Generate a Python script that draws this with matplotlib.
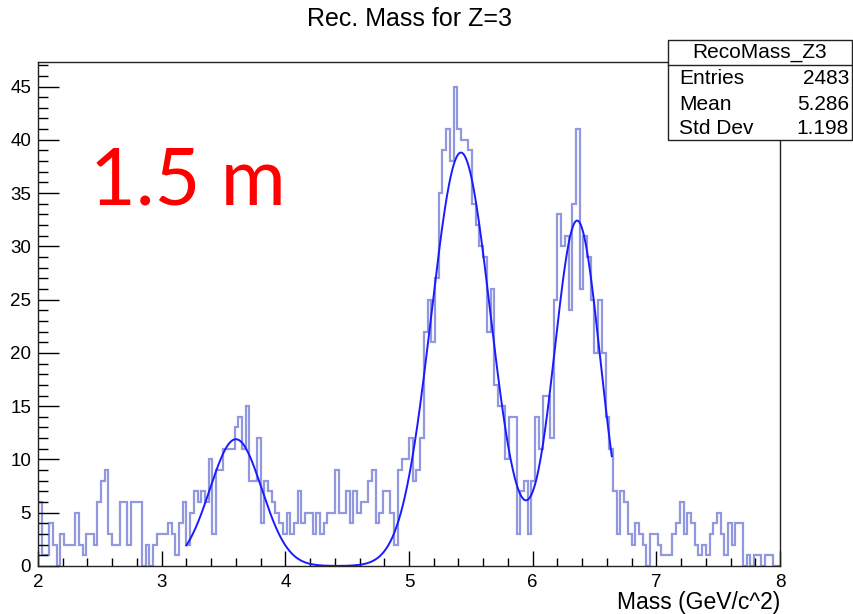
import numpy as np
import matplotlib
matplotlib.use("Agg")
import matplotlib.pyplot as plt
from matplotlib.patches import Rectangle
from matplotlib.lines import Line2D
from matplotlib.ticker import MultipleLocator

# ---------------- data ----------------
x_min, x_max, n_bins = 2.0, 8.0, 200
counts = [
    6, 1, 1, 4, 2, 0, 3, 2, 2, 2,
    5, 2, 1, 3, 3, 2, 6, 8, 9, 3,
    2, 2, 6, 6, 2, 6, 6, 6, 0, 2,
    0, 2, 3, 3, 3, 4, 3, 1, 4, 6,
    2, 5, 7, 6, 7, 6, 10, 3, 9, 9,
    11, 11, 11, 13, 14, 11, 15, 8, 8, 12,
    4, 8, 7, 6, 5, 4, 3, 5, 3, 4,
    7, 4, 5, 5, 3, 5, 3, 4, 5, 5,
    9, 5, 5, 7, 4, 7, 5, 6, 6, 8,
    9, 4, 5, 7, 7, 5, 2, 9, 10, 10,
    12, 8, 9, 12, 22, 25, 21, 27, 35, 39,
    41, 38, 45, 41, 40, 40, 39, 34, 32, 30,
    29, 22, 26, 17, 15, 15, 10, 14, 14, 3,
    7, 8, 3, 8, 14, 11, 16, 16, 12, 25,
    33, 30, 31, 24, 34, 41, 26, 31, 29, 25,
    20, 25, 20, 14, 11, 7, 3, 7, 6, 3,
    2, 4, 3, 2, 0, 3, 3, 2, 1, 1,
    1, 3, 4, 6, 3, 5, 4, 2, 1, 2,
    1, 3, 4, 5, 3, 1, 4, 2, 4, 4,
    0, 1, 0, 1, 1, 0, 1, 1, 0, 0,
]

# fit: sum of three gaussians (amplitude, mean, sigma)
fit_amp = [11.9, 38.8, 32.4]
fit_mean = [3.60, 5.42, 6.36]
fit_sigma = [0.21, 0.24, 0.185]
fit_range = [3.2, 6.64]

hist_name = "RecoMass_Z3"
stat_labels = ["Entries", "Mean", "Std Dev"]
stat_values = ["2483", "5.286", "1.198"]
title = "Rec. Mass for Z=3"
xlabel = "Mass (GeV/c^2)"
note = "1.5 m"

# ---------------- figure ----------------
W, H = 854, 614
fig = plt.figure(figsize=(W / 100, H / 100), dpi=100)
fig.patch.set_facecolor("white")
font = "Liberation Sans"

L, R, T, B = 38, 780, 62, 566
ax = fig.add_axes([L / W, 1 - B / H, (R - L) / W, (B - T) / H])

edges = np.linspace(x_min, x_max, n_bins + 1)
ax.stairs(counts, edges, baseline=0, color="#9298e0", lw=1.6)

xf = np.linspace(fit_range[0], fit_range[1], 600)
yf = np.zeros_like(xf)
for a, m, s in zip(fit_amp, fit_mean, fit_sigma):
    yf += a * np.exp(-0.5 * ((xf - m) / s) ** 2)
ax.plot(xf, yf, color="#1a1aff", lw=1.4)

ax.set_xlim(x_min, x_max)
ax.set_ylim(0, 47.3)

ax.xaxis.set_major_locator(MultipleLocator(1))
ax.xaxis.set_minor_locator(MultipleLocator(0.2))
ax.yaxis.set_major_locator(MultipleLocator(5))
ax.yaxis.set_minor_locator(MultipleLocator(1))
ax.tick_params(axis="x", which="major", direction="in", length=11, width=1, pad=6,
               labelsize=13.5, top=False)
ax.tick_params(axis="x", which="minor", direction="in", length=5.5, width=1, top=False)
ax.tick_params(axis="y", which="major", direction="in", length=15, width=1, pad=5,
               labelsize=13.5, right=False)
ax.tick_params(axis="y", which="minor", direction="in", length=7.5, width=1, right=False)
for lab in ax.get_xticklabels() + ax.get_yticklabels():
    lab.set_fontfamily(font)
for sp in ax.spines.values():
    sp.set_color("#222222")
    sp.set_linewidth(1)

# title and axis label
fig.text(410 / W, 1 - 19 / H, title, ha="center", va="center", fontsize=18,
         family=font)
fig.text(R / W, 1 - 603 / H, xlabel, ha="right", va="center", fontsize=16.5,
         family=font)

# big red annotation
fig.text(90 / W, 1 - 205 / H, note, ha="left", va="baseline", fontsize=57,
         color="#ff0000", family="Lato")

# stats box
bx0, bx1, by0, by1 = 668, 852, 40, 140
fig.add_artist(Rectangle((bx0 / W, 1 - by1 / H), (bx1 - bx0) / W, (by1 - by0) / H,
                         transform=fig.transFigure, facecolor="white",
                         edgecolor="#222222", lw=1, zorder=5))
fig.add_artist(Line2D([bx0 / W, bx1 / W], [1 - 65 / H, 1 - 65 / H],
                      transform=fig.transFigure, color="#222222", lw=1, zorder=6))
fig.text((bx0 + bx1) / 2 / W, 1 - 53 / H, hist_name, ha="center", va="center",
         fontsize=15, family=font, zorder=7)
row_y = [78, 104, 128]
for lab, val, yy in zip(stat_labels, stat_values, row_y):
    fig.text(679 / W, 1 - yy / H, lab, ha="left", va="center", fontsize=15,
             family=font, zorder=7)
    fig.text(849 / W, 1 - yy / H, val, ha="right", va="center", fontsize=15,
             family=font, zorder=7)

fig.savefig("out.png", dpi=100)
